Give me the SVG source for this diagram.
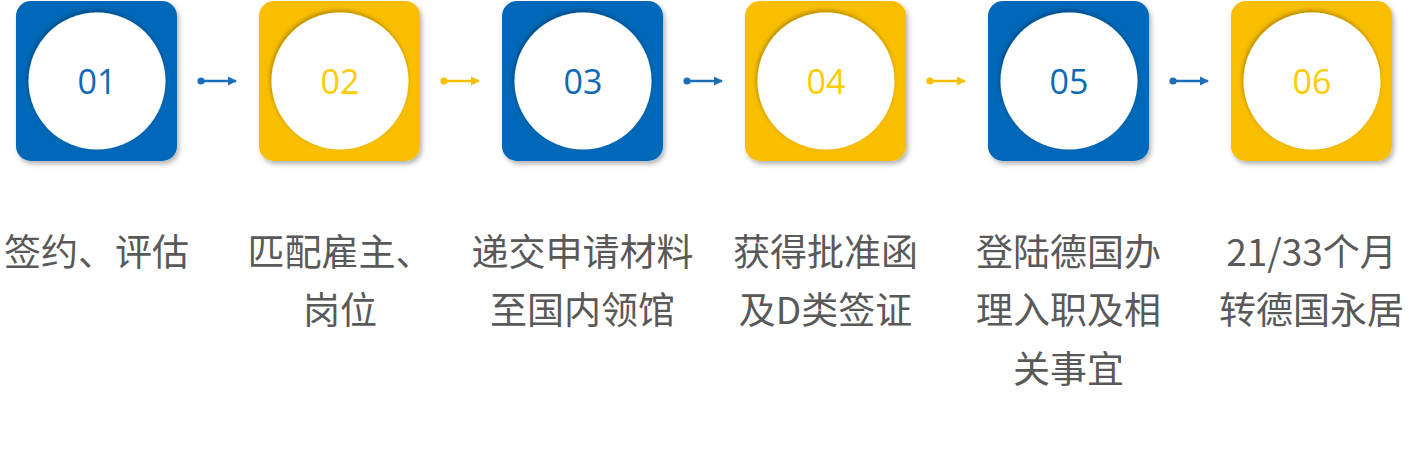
<svg xmlns="http://www.w3.org/2000/svg" width="1409" height="467" viewBox="0 0 1409 467">
<style>
.blue{fill:#0568B8}
.yel{fill:#F9BE00}
.nb{fill:#0F69B8}
.ny{fill:#FFCC00}
.num{font-family:"Open Sans","Liberation Sans",sans-serif;font-size:34px;text-anchor:middle}
.lbl{font-family:"Noto Sans CJK SC","Noto Sans",sans-serif;font-size:37px;fill:#595959;text-anchor:middle}
.cb{stroke:#1A6FB8;stroke-width:2.6;fill:none}
.cy{stroke:#F9BE00;stroke-width:2.6;fill:none}
</style>
<defs>
<filter id="sh" x="-10%" y="-10%" width="130%" height="130%">
<feDropShadow dx="2" dy="3" stdDeviation="2.5" flood-color="#000" flood-opacity="0.3"/>
</filter>
<filter id="ish" x="-10%" y="-10%" width="120%" height="120%">
<feDropShadow dx="-1" dy="-2" stdDeviation="2" flood-color="#000" flood-opacity="0.3"/>
</filter>
<marker id="ab" viewBox="0 0 10 10" refX="9" refY="5" markerWidth="3.6" markerHeight="3.6" orient="auto" markerUnits="strokeWidth"><path d="M0,0 L10,5 L0,10 z" fill="#1A6FB8"/></marker>
<marker id="ay" viewBox="0 0 10 10" refX="9" refY="5" markerWidth="3.6" markerHeight="3.6" orient="auto" markerUnits="strokeWidth"><path d="M0,0 L10,5 L0,10 z" fill="#F9BE00"/></marker>
</defs>
<g id="connectors">
<circle cx="201" cy="81" r="3.6" fill="#1A6FB8"/><line class="cb" x1="201" y1="81" x2="236" y2="81" marker-end="url(#ab)"/>
<circle cx="444" cy="81" r="3.6" fill="#F9BE00"/><line class="cy" x1="444" y1="81" x2="479" y2="81" marker-end="url(#ay)"/>
<circle cx="687" cy="81" r="3.6" fill="#1A6FB8"/><line class="cb" x1="687" y1="81" x2="722" y2="81" marker-end="url(#ab)"/>
<circle cx="930" cy="81" r="3.6" fill="#F9BE00"/><line class="cy" x1="930" y1="81" x2="965" y2="81" marker-end="url(#ay)"/>
<circle cx="1173" cy="81" r="3.6" fill="#1A6FB8"/><line class="cb" x1="1173" y1="81" x2="1208" y2="81" marker-end="url(#ab)"/>
</g>
<g id="node1">
<rect class="blue" x="16" y="1" width="161" height="160" rx="15" filter="url(#sh)"/>
<circle cx="97" cy="81" r="68.5" fill="#fff" filter="url(#ish)"/>
<text class="num nb" x="97" y="94">01</text>
<text class="lbl" x="96.5" y="266">签约、评估</text>
</g>
<g id="node2">
<rect class="yel" x="259" y="1" width="161" height="160" rx="15" filter="url(#sh)"/>
<circle cx="340" cy="81" r="68.5" fill="#fff" filter="url(#ish)"/>
<text class="num ny" x="340" y="94">02</text>
<text class="lbl" x="340" y="266">匹配雇主、</text>
<text class="lbl" x="340" y="324">岗位</text>
</g>
<g id="node3">
<rect class="blue" x="502" y="1" width="161" height="160" rx="15" filter="url(#sh)"/>
<circle cx="583" cy="81" r="68.5" fill="#fff" filter="url(#ish)"/>
<text class="num nb" x="583" y="94">03</text>
<text class="lbl" x="582.5" y="266">递交申请材料</text>
<text class="lbl" x="582.5" y="324">至国内领馆</text>
</g>
<g id="node4">
<rect class="yel" x="745" y="1" width="161" height="160" rx="15" filter="url(#sh)"/>
<circle cx="826" cy="81" r="68.5" fill="#fff" filter="url(#ish)"/>
<text class="num ny" x="826" y="94">04</text>
<text class="lbl" x="825.5" y="266">获得批准函</text>
<text class="lbl" x="825.5" y="324">及D类签证</text>
</g>
<g id="node5">
<rect class="blue" x="988" y="1" width="161" height="160" rx="15" filter="url(#sh)"/>
<circle cx="1069" cy="81" r="68.5" fill="#fff" filter="url(#ish)"/>
<text class="num nb" x="1069" y="94">05</text>
<text class="lbl" x="1068.5" y="266">登陆德国办</text>
<text class="lbl" x="1068.5" y="324">理入职及相</text>
<text class="lbl" x="1068.5" y="383">关事宜</text>
</g>
<g id="node6">
<rect class="yel" x="1231" y="1" width="161" height="160" rx="15" filter="url(#sh)"/>
<circle cx="1312" cy="81" r="68.5" fill="#fff" filter="url(#ish)"/>
<text class="num ny" x="1312" y="94">06</text>
<text class="lbl" x="1311.5" y="266">21/33个月</text>
<text class="lbl" x="1311.5" y="324">转德国永居</text>
</g>
</svg>
